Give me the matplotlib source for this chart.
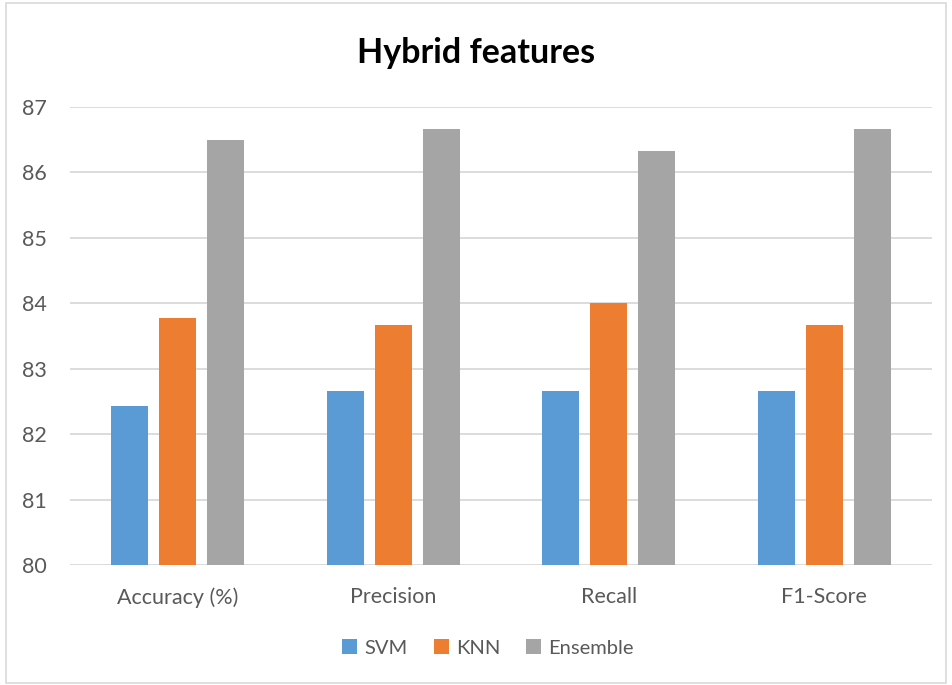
import numpy as np
import matplotlib.pyplot as plt
from matplotlib.patches import Rectangle

categories = ["Accuracy (%)", "Precision", "Recall", "F1-Score"]
svm = [82.43, 82.66, 82.66, 82.66]
knn = [83.78, 83.66, 84.0, 83.66]
ensemble = [86.49, 86.66, 86.33, 86.66]

plt.rcParams['font.family'] = ['Lato', 'DejaVu Sans']

fig = plt.figure(figsize=(9.52, 6.85), dpi=100)
ax = fig.add_axes([70 / 952, 120 / 685, 862 / 952, 458.3 / 685])

x = np.arange(len(categories))
w = 0.172
step = 0.223
ax.bar(x - step, svm, w, color="#5b9bd5", label="SVM", zorder=3)
ax.bar(x, knn, w, color="#ed7d31", label="KNN", zorder=3)
ax.bar(x + step, ensemble, w, color="#a5a5a5", label="Ensemble", zorder=3)

ax.set_ylim(80, 87)
ax.set_xlim(-0.5, 3.5)
ax.set_yticks(range(80, 88))
ax.set_xticks(x)
ax.set_xticklabels(categories)
ax.tick_params(axis="both", length=0, labelsize=15.5, colors="#595959")
ax.tick_params(axis="x", pad=16)
ax.tick_params(axis="y", pad=16.5)
ax.grid(axis="y", color="#d9d9d9", linewidth=1.3, zorder=0)
for s in ax.spines.values():
    s.set_visible(False)

fig.text(0.5, 1 - 53 / 685, "Hybrid features", ha="center", va="center",
         fontsize=24.5, fontweight="bold", color="black")

ax.legend(loc="center", bbox_to_anchor=(488 / 952, 1 - 648 / 685), bbox_transform=fig.transFigure,
          ncol=3, frameon=False, fontsize=14.5, labelcolor="#595959",
          handlelength=0.75, handleheight=0.75, handletextpad=0.35, columnspacing=1.3)

fig.patches.append(Rectangle((6 / 952, 2 / 685), 940 / 952, 680 / 685, transform=fig.transFigure,
                             fill=False, edgecolor="#d9d9d9", linewidth=1.2))

fig.savefig("out.png", dpi=100)
